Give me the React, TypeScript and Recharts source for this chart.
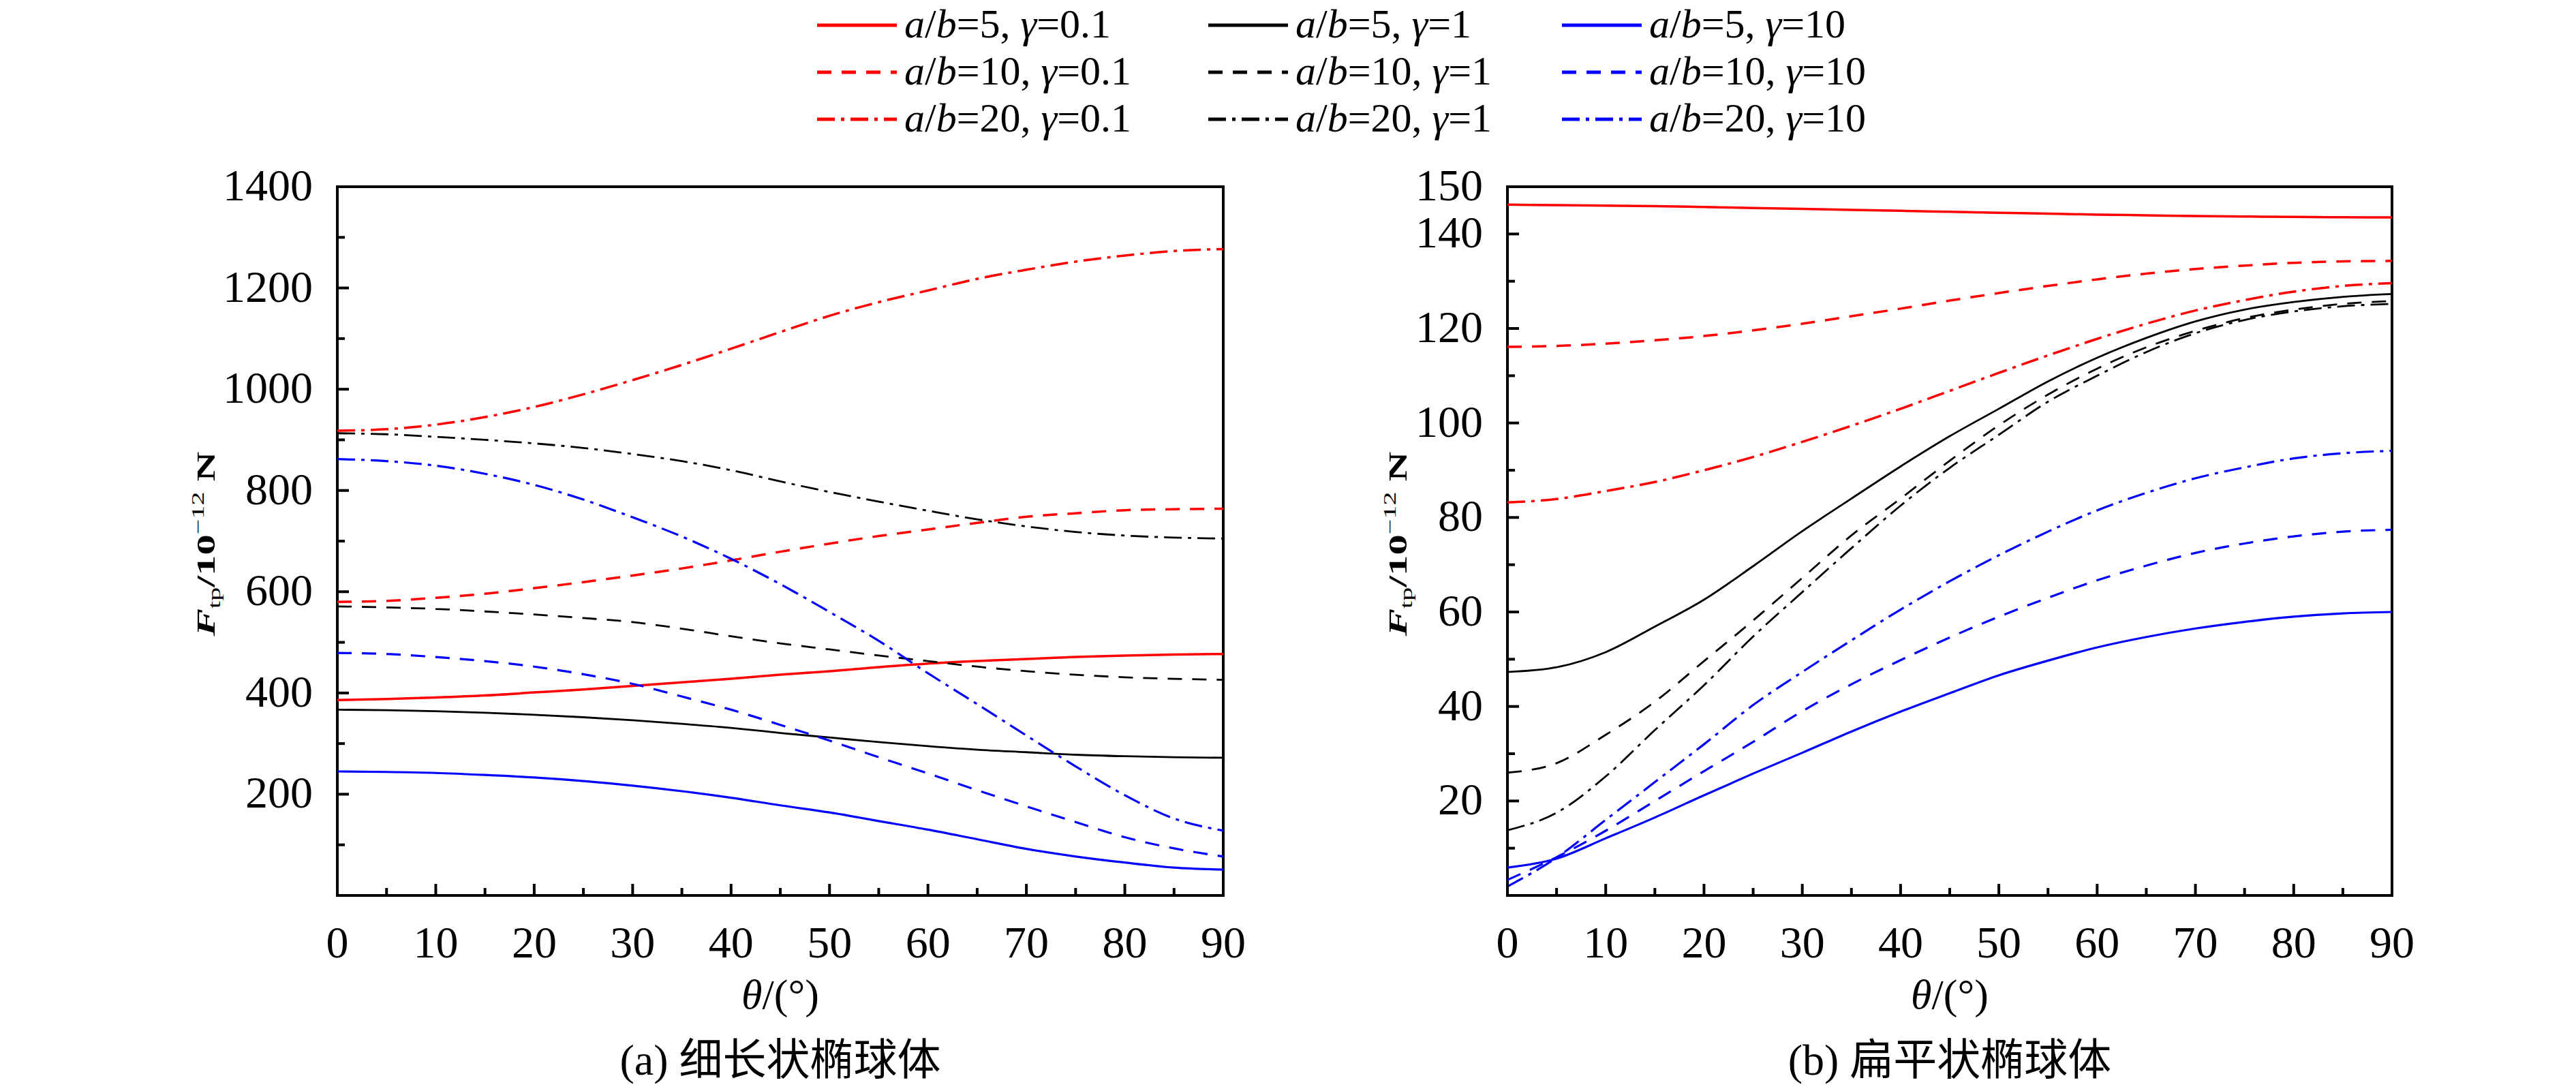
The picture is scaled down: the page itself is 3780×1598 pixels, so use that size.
import React from 'react';
import { LineChart, Line, XAxis, YAxis, ReferenceArea } from 'recharts';

// ── Data ───────────────────────────────────────────────────────
const THETA = [0, 5, 10, 15, 20, 25, 30, 35, 40, 45, 50, 55, 60, 65, 70, 75, 80, 85, 90];
const THETA_TICKS = THETA;

// (a) prolate, F_tp / 1e-12 N
const A_R5 = [386, 388, 391, 395, 401, 407, 414, 421, 428, 436, 443, 451, 458, 463, 467, 471, 474, 476, 477];
const A_K5 = [367, 366, 364, 361, 357, 352, 346, 339, 331, 321, 312, 303, 295, 288, 283, 278, 275, 273, 272];
const A_B5 = [245, 244, 242, 238, 233, 226, 217, 206, 193, 178, 164, 147, 130, 111, 92, 77, 65, 55, 51];
const A_R10 = [580, 582, 588, 596, 607, 619, 632, 646, 662, 679, 695, 710, 723, 736, 748, 755, 761, 763, 764];
const A_K10 = [571, 569, 566, 561, 555, 548, 540, 527, 512, 498, 486, 474, 463, 452, 443, 436, 431, 428, 426];
const A_B10 = [479, 477, 471, 463, 452, 437, 418, 393, 367, 337, 306, 273, 241, 208, 176, 145, 115, 93, 77];
const A_R20 = [918, 921, 930, 945, 965, 990, 1018, 1048, 1080, 1113, 1145, 1172, 1195, 1218, 1236, 1252, 1264, 1273, 1277];
const A_K20 = [913, 911, 906, 900, 893, 884, 872, 858, 840, 818, 797, 778, 760, 743, 729, 718, 711, 707, 705];
const A_B20 = [862, 858, 849, 833, 811, 782, 747, 709, 665, 615, 560, 503, 439, 378, 316, 255, 198, 152, 128];

// (b) oblate
const B_R5 = [146.2, 146.1, 146.0, 145.9, 145.7, 145.5, 145.3, 145.1, 144.9, 144.7, 144.5, 144.3, 144.1, 143.95, 143.8, 143.7, 143.6, 143.55, 143.5];
const B_K5 = [47.3, 48.3, 51.5, 56.9, 62.6, 69.7, 77.1, 84.0, 90.8, 97.2, 103.0, 108.8, 113.8, 118.0, 121.5, 124.0, 125.6, 126.7, 127.3];
const B_B5 = [5.9, 7.8, 12.1, 16.5, 21.2, 25.8, 30.2, 34.7, 38.9, 42.8, 46.6, 49.7, 52.5, 54.7, 56.5, 57.9, 59.0, 59.7, 60.0];
const B_R10 = [116.1, 116.3, 116.8, 117.5, 118.4, 119.6, 121.0, 122.6, 124.2, 125.9, 127.5, 129.0, 130.4, 131.6, 132.6, 133.3, 133.9, 134.2, 134.3];
const B_K10 = [26.0, 28.0, 34.0, 41.0, 49.6, 58.2, 67.2, 76.2, 84.0, 92.0, 99.5, 106.0, 111.5, 116.0, 119.5, 122.2, 124.0, 125.2, 125.8];
const B_B10 = [3.3, 8.1, 13.7, 20.0, 26.3, 32.5, 39.0, 44.7, 49.8, 54.6, 59.0, 63.0, 66.7, 69.8, 72.5, 74.5, 76.0, 77.0, 77.4];
const B_R20 = [83.2, 83.9, 85.6, 87.5, 90.0, 92.8, 96.0, 99.4, 103.0, 106.8, 110.6, 114.3, 117.8, 121.0, 123.8, 126.0, 127.8, 129.0, 129.6];
const B_K20 = [13.8, 17.5, 25.2, 35.0, 44.5, 54.8, 64.2, 73.5, 82.5, 90.5, 97.5, 104.5, 110.0, 115.0, 119.0, 121.8, 123.6, 124.7, 125.2];
const B_B20 = [1.9, 8.0, 16.0, 24.0, 32.0, 40.3, 47.3, 54.0, 60.5, 66.5, 72.0, 77.0, 81.5, 85.2, 88.3, 90.6, 92.5, 93.6, 94.1];

const Y_TICKS_A = [0, 100, 200, 300, 400, 500, 600, 700, 800, 900, 1000, 1100, 1200, 1300, 1400];
const Y_TICKS_B = [0, 10, 20, 30, 40, 50, 60, 70, 80, 90, 100, 110, 120, 130, 140, 150];

const RATIOS = ['5', '10', '20'];
const GAMMAS = ['0.1', '1', '10'];
const CAPTION_A = '(a) 细长状椭球体';
const CAPTION_B = '(b) 扁平状椭球体';

// ── Styles ─────────────────────────────────────────────────────
const SERIF = '"Liberation Serif", "Times New Roman", serif';
const CAPTION_FONT = '"Liberation Serif", "Noto Sans CJK SC", serif';
const COLORS = ['#ff0000', '#000000', '#0000ff']; // by gamma
const WIDTHS = [3.5, 2.8, 3.2];
const DASHES = [undefined, '21 15', '26 9 5 9']; // by ratio

const PAGE_W = 3780;
const PAGE_H = 1598;
const PLOT_TOP = 274;
const PLOT_BOTTOM = 1314;
const Y_AXIS_W = 200;
const X_AXIS_H = 150;

function buildRows(cols: number[][][]) {
  // cols[ratio][gamma] -> values
  return THETA.map((t, i) => {
    const row: Record<string, number> = { theta: t };
    cols.forEach((byGamma, r) => byGamma.forEach((vals, g) => { row[`s${r}${g}`] = vals[i]; }));
    return row;
  });
}

const DATA_A = buildRows([
  [A_R5, A_K5, A_B5],
  [A_R10, A_K10, A_B10],
  [A_R20, A_K20, A_B20],
]);
const DATA_B = buildRows([
  [B_R5, B_K5, B_B5],
  [B_R10, B_K10, B_B10],
  [B_R20, B_K20, B_B20],
]);

// ── Ticks (inward) ─────────────────────────────────────────────
function XTick(props: any) {
  const { x, y, payload } = props;
  const v = payload.value as number;
  const major = v % 10 === 0;
  return (
    <g>
      <line x1={x} y1={y} x2={x} y2={y - (major ? 17 : 11)} stroke="#000" strokeWidth={4} />
      {major && (
        <text x={x} y={y + 91} textAnchor="middle" fontFamily={SERIF} fontSize={66} fill="#000">
          {v}
        </text>
      )}
    </g>
  );
}

function YTick(props: any) {
  const { x, y, payload, isMajor, hasLabel } = props;
  const v = payload.value as number;
  return (
    <g>
      <line x1={x} y1={y} x2={x + (isMajor(v) ? 17 : 11)} y2={y} stroke="#000" strokeWidth={4} />
      {hasLabel(v) && (
        <text x={x - 36} y={y + 20} textAnchor="end" fontFamily={SERIF} fontSize={66} fill="#000">
          {v}
        </text>
      )}
    </g>
  );
}

// ── Panel ──────────────────────────────────────────────────────
interface PanelProps {
  data: Record<string, number>[];
  left: number;
  width: number;
  plotLeft: number;
  plotRight: number;
  yDomain: [number, number];
  yTicks: number[];
  isMajor: (v: number) => boolean;
  hasLabel: (v: number) => boolean;
}

function Panel({ data, left, width, plotLeft, plotRight, yDomain, yTicks, isMajor, hasLabel }: PanelProps) {
  return (
    <div style={{ position: 'absolute', left, top: 0, width, height: PAGE_H }}>
      <LineChart
        width={width}
        height={PAGE_H}
        data={data}
        margin={{
          top: PLOT_TOP,
          left: plotLeft - left - Y_AXIS_W,
          right: left + width - plotRight,
          bottom: PAGE_H - PLOT_BOTTOM - X_AXIS_H,
        }}
        style={{ overflow: 'visible' }}
      >
        <XAxis
          dataKey="theta"
          type="number"
          domain={[0, 90]}
          ticks={THETA_TICKS}
          interval={0}
          tickSize={0}
          tickMargin={0}
          axisLine={false}
          tickLine={false}
          height={X_AXIS_H}
          tick={(p: any) => <XTick {...p} />}
        />
        <YAxis
          type="number"
          domain={yDomain}
          ticks={yTicks}
          interval={0}
          tickSize={0}
          tickMargin={0}
          axisLine={false}
          tickLine={false}
          width={Y_AXIS_W}
          tick={(p: any) => <YTick {...p} isMajor={isMajor} hasLabel={hasLabel} />}
        />
        {RATIOS.map((_, r) =>
          GAMMAS.map((__, g) => (
            <Line
              key={`s${r}${g}`}
              dataKey={`s${r}${g}`}
              type="monotone"
              stroke={COLORS[g]}
              strokeWidth={WIDTHS[g]}
              strokeDasharray={DASHES[r]}
              dot={false}
              activeDot={false}
              isAnimationActive={false}
            />
          ))
        )}
        <ReferenceArea
          x1={0}
          x2={90}
          y1={yDomain[0]}
          y2={yDomain[1]}
          fill="none"
          fillOpacity={0}
          stroke="#000"
          strokeWidth={4}
        />
      </LineChart>
    </div>
  );
}

// ── Texts ──────────────────────────────────────────────────────
// the original label is drawn stretched along its length
function YTitle({ x, cy }: { x: number; cy: number }) {
  return (
    <text
      transform={`translate(${x},${cy}) rotate(-90) scale(1.6,1)`}
      textAnchor="middle"
      fontFamily={SERIF}
      fontSize={38}
      fontWeight="bold"
      fill="#000"
    >
      <tspan fontStyle="italic">F</tspan>
      <tspan fontSize={25} fontWeight="normal" dy={8}>tp</tspan>
      <tspan dy={-8}>/10</tspan>
      <tspan fontSize={25} fontWeight="normal" dy={-16}>−12</tspan>
      <tspan dy={16}> N</tspan>
    </text>
  );
}

function XTitle({ cx }: { cx: number }) {
  return (
    <text x={cx} y={1480} textAnchor="middle" fontFamily={SERIF} fontSize={62} fill="#000">
      <tspan fontStyle="italic">θ</tspan>/(°)
    </text>
  );
}

function Caption({ cx, text }: { cx: number; text: string }) {
  return (
    <text x={cx} y={1577} textAnchor="middle" fontFamily={CAPTION_FONT} fontSize={64} fill="#000">
      {text}
    </text>
  );
}

const LEGEND_X = [1199, 1773, 2292];
const LEGEND_Y = [37, 106, 175];

function Legend() {
  return (
    <g>
      {RATIOS.map((ratio, r) =>
        GAMMAS.map((gamma, g) => {
          const x = LEGEND_X[g];
          const y = LEGEND_Y[r];
          return (
            <g key={`${r}${g}`}>
              <line
                x1={x}
                y1={y}
                x2={x + 117}
                y2={y}
                stroke={COLORS[g]}
                strokeWidth={5}
                strokeDasharray={DASHES[r]}
              />
              <text x={x + 128} y={y + 18} fontFamily={SERIF} fontSize={60} fill="#000">
                <tspan fontStyle="italic">a</tspan>/<tspan fontStyle="italic">b</tspan>={ratio},{' '}
                <tspan fontStyle="italic">γ</tspan>={gamma}
              </text>
            </g>
          );
        })
      )}
    </g>
  );
}

export default function App() {
  return (
    <div style={{ position: 'absolute', left: 0, top: 0, width: PAGE_W, height: PAGE_H, background: '#fff' }}>
      <Panel
        data={DATA_A}
        left={0}
        width={1900}
        plotLeft={495}
        plotRight={1795}
        yDomain={[0, 1400]}
        yTicks={Y_TICKS_A}
        isMajor={(v) => v % 200 === 0}
        hasLabel={(v) => v > 0 && v % 200 === 0}
      />
      <Panel
        data={DATA_B}
        left={1900}
        width={1880}
        plotLeft={2212}
        plotRight={3510}
        yDomain={[0, 150]}
        yTicks={Y_TICKS_B}
        isMajor={(v) => v % 20 === 0}
        hasLabel={(v) => (v > 0 && v % 20 === 0) || v === 150}
      />
      <svg
        width={PAGE_W}
        height={PAGE_H}
        style={{ position: 'absolute', left: 0, top: 0, pointerEvents: 'none' }}
      >
        <Legend />
        <YTitle x={315} cy={798} />
        <YTitle x={2064} cy={798} />
        <XTitle cx={1145} />
        <XTitle cx={2861} />
        <Caption cx={1145} text={CAPTION_A} />
        <Caption cx={2861} text={CAPTION_B} />
      </svg>
    </div>
  );
}
